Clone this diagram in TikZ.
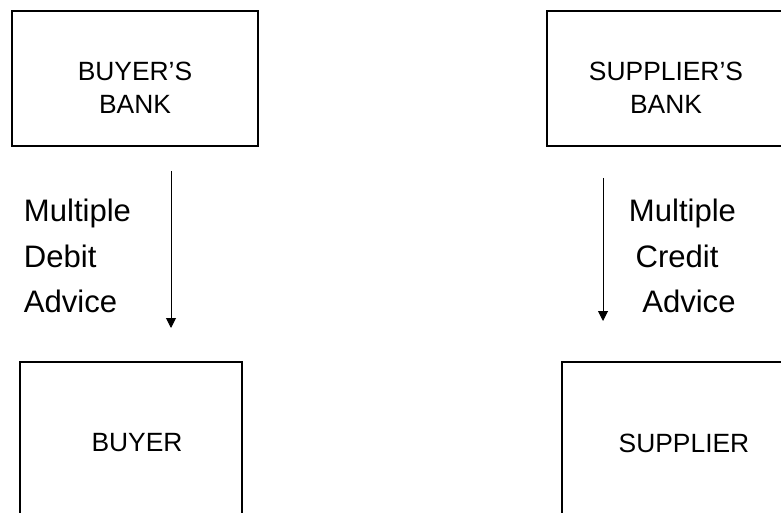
\documentclass[tikz,border=0pt]{standalone}
\usepackage{fontspec}
\setmainfont{Liberation Sans}
\usetikzlibrary{arrows.meta}

\begin{document}
\begin{tikzpicture}[x=0.75pt,y=-0.75pt,
    bankbox/.style={draw,line width=1pt,inner sep=0,minimum height=101.25pt},
    partybox/.style={draw,line width=1pt,inner sep=0,minimum height=121.5pt},
    boxtext/.style={inner sep=0,align=center,font=\fontsize{19.8pt}{24.75pt}\selectfont},
    advice/.style={inner sep=0,align=left,anchor=north west,font=\fontsize{23.3pt}{34.1pt}\selectfont},
    flow/.style={line width=0.75pt,-{Triangle[length=7.5pt,width=7.5pt]}}]
    \pgfmathsetmacro{\picwidth}{781}
    \pgfmathsetmacro{\picheight}{513}
    \pgfmathsetmacro{\indentone}{5}
    \pgfmathsetmacro{\indenttwo}{10}
    \useasboundingbox (0,0) rectangle (\picwidth,\picheight);
    \clip (0,0) rectangle (\picwidth,\picheight);
    \node[bankbox,minimum width=184.5pt] (bbank) at (135,78.5) {};
    \node[boxtext] (bbanktext) at (135,87.5) {BUYER’S\\BANK};
    \node[bankbox,minimum width=178.5pt] (sbank) at (666,78.5) {};
    \node[boxtext] (sbanktext) at (666,87.5) {SUPPLIER’S\\BANK};
    \node[partybox,minimum width=166.5pt] (buyer) at (131,443) {};
    \node[boxtext] (buyertext) at (137,443) {BUYER};
    \node[partybox,minimum width=183pt] (supplier) at (684,443) {};
    \node[boxtext] (suppliertext) at (684,443) {SUPPLIER};
    \coordinate (debitstart) at (171,171);
    \coordinate (debitend) at (171,328);
    \coordinate (creditstart) at (603,178);
    \coordinate (creditend) at (603,321);
    \draw[flow] (debitstart) -- (debitend);
    \draw[flow] (creditstart) -- (creditend);
    \node[advice] (debitnote) at (23.7,199) {Multiple\\Debit\\Advice};
    \node[advice] (creditnote) at (628.7,199) {Multiple\\\hspace*{\indentone pt}Credit\\\hspace*{\indenttwo pt}Advice};
\end{tikzpicture}
\end{document}
